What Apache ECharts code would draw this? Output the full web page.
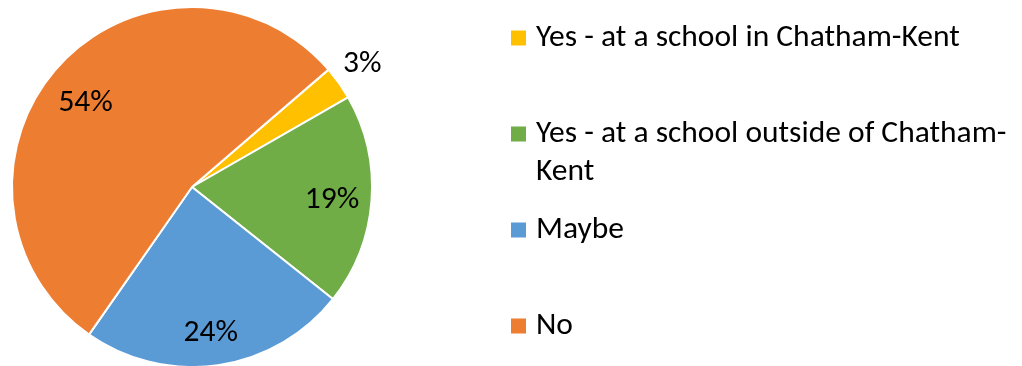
<!DOCTYPE html>
<html>
<head>
<meta charset="utf-8">
<script src="https://cdn.jsdelivr.net/npm/echarts@6/dist/echarts.min.js"></script>
<style>
  html, body { margin: 0; padding: 0; background: #fff; }
  #chart { width: 1022px; height: 366px; }
</style>
</head>
<body>
<div id="chart"></div>
<script>
// Survey answers and their shares (percent)
const categories = [
  'Yes - at a school in Chatham-Kent',
  'Yes - at a school outside of Chatham-Kent',
  'Maybe',
  'No'
];
const shares = [3, 19, 24, 54];
const colors = ['#FFC000', '#70AD47', '#5B9BD5', '#ED7D31'];
// small nudges for the percentage labels
const labelNudges = [[-4, 1], [-3, 2], [-2, 4], [0, 12]];

const FONT = 'Carlito, Lato, sans-serif';
const FS = 31.5;
const LH = 38;
const R = 180;
const CENTER = [192, 187];
const START = 40.7;

const pieData = categories.map((name, i) => ({
  name, value: shares[i], itemStyle: { color: colors[i] }
}));

// Ring used only to carry the in-slice percentage labels further out than the default
const innerLabelData = categories.map((name, i) => ({
  name, value: shares[i],
  label: { show: i !== 0, offset: labelNudges[i] }
}));
// Ring outside the pie carrying the label of the thin first slice
const outerLabelData = categories.map((name, i) => ({
  name, value: shares[i],
  label: { show: i === 0, offset: labelNudges[i] }
}));

const labelStyle = {
  position: 'inside',
  formatter: p => p.value + '%',
  color: '#000',
  fontFamily: FONT,
  fontSize: FS
};

function legendItem(i, top, text) {
  return {
    orient: 'vertical',
    left: 509,
    top: top,
    padding: 0,
    itemWidth: 17,
    itemHeight: 17,
    icon: 'rect',
    selectedMode: false,
    data: [categories[i]],
    formatter: text ? () => text : undefined,
    textStyle: {
      fontFamily: FONT,
      fontSize: FS,
      lineHeight: LH,
      color: '#000',
      padding: [0, 0, 0, 4]
    }
  };
}

const chart = echarts.init(document.getElementById('chart'), null, { renderer: 'canvas' });
chart.setOption({
  animation: false,
  backgroundColor: '#fff',
  legend: [
    legendItem(0, 38 - LH / 2),
    legendItem(1, 134 - 1.5 * LH, '\nYes - at a school outside of Chatham-\nKent'),
    legendItem(2, 230 - LH / 2),
    legendItem(3, 326 - LH / 2)
  ],
  series: [
    {
      type: 'pie',
      center: CENTER,
      radius: [0, R],
      startAngle: START,
      clockwise: true,
      avoidLabelOverlap: false,
      label: { show: false },
      labelLine: { show: false },
      emphasis: { disabled: true },
      itemStyle: { borderColor: '#fff', borderWidth: 2 },
      data: pieData
    },
    {
      type: 'pie',
      center: CENTER,
      radius: [R * 0.56, R],
      startAngle: START,
      clockwise: true,
      silent: true,
      avoidLabelOverlap: false,
      itemStyle: { color: 'rgba(0,0,0,0)' },
      label: labelStyle,
      labelLine: { show: false },
      data: innerLabelData
    },
    {
      type: 'pie',
      center: CENTER,
      radius: [R * 1.07, R * 1.27],
      startAngle: START,
      clockwise: true,
      silent: true,
      avoidLabelOverlap: false,
      itemStyle: { color: 'rgba(0,0,0,0)' },
      label: labelStyle,
      labelLine: { show: false },
      data: outerLabelData
    }
  ]
});
</script>
</body>
</html>
